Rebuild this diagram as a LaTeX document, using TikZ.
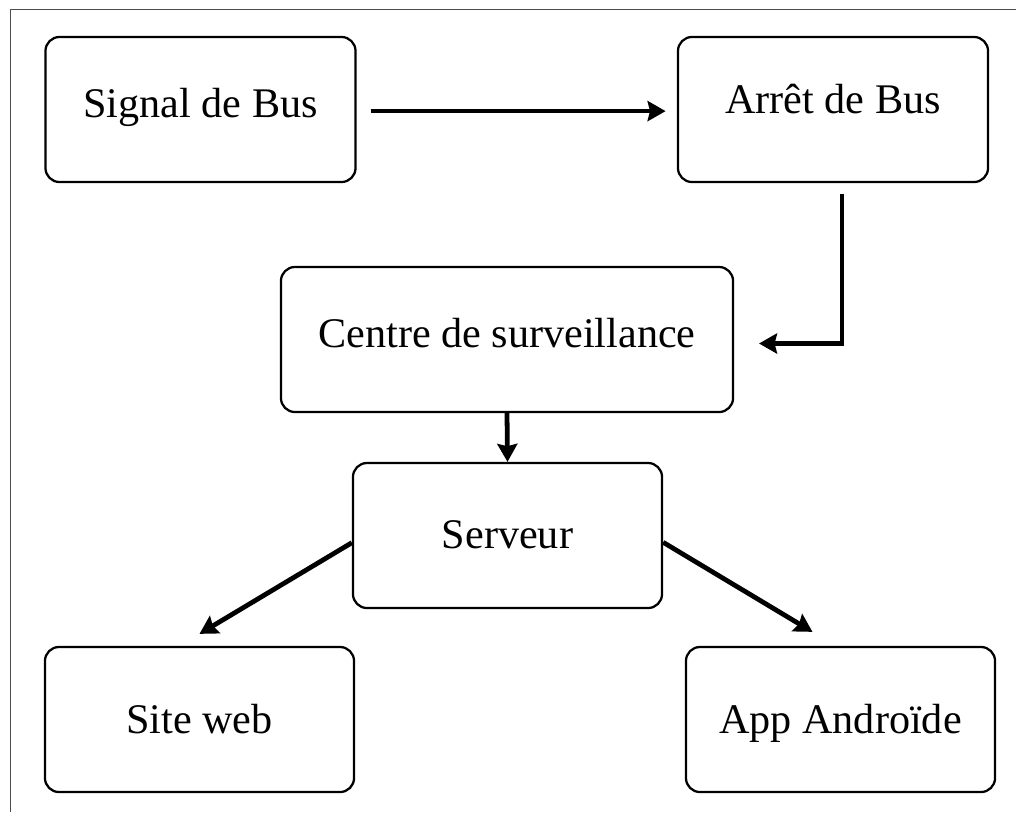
\documentclass[tikz,border=0pt]{standalone}
\usepackage{fontspec}
\setmainfont{Liberation Serif}
\usetikzlibrary{positioning,arrows.meta}

\begin{document}
\begin{tikzpicture}[x=0.025cm,y=-0.025cm,
    box/.style={draw,line width=1.6pt,rounded corners=0.35cm,inner sep=0pt,
      minimum width=7.75cm,text height=2cm,text depth=1.625cm,
      font=\fontsize{30}{36}\selectfont},
    flow/.style={line width=3.4pt,-{Stealth[length=0.45cm,width=0.5cm,inset=0.06cm]}}]
\useasboundingbox (0,0) rectangle (1016,812);
\draw[black!70,line width=0.6pt] (10,812) -- (10,9) -- (1016,9);

\node[box] (sig) at (200.5,109.5) {Signal de Bus};
\node[box,text height=1.9cm,text depth=1.725cm] (arr) at (833,109.5) {Arrêt de Bus};
\node[box,minimum width=11.3cm] (cen) at (507,339.5) {Centre de surveillance};
\node[box,text height=2.125cm,text depth=1.5cm,minimum width=7.725cm] (ser) at (507.5,535.5) {Serveur};
\node[box,text height=2.15cm,text depth=1.475cm,minimum width=7.725cm] (web) at (199.5,719.5) {Site web};
\node[box,text height=2.15cm,text depth=1.475cm,minimum width=7.725cm] (app) at (840.5,719.5) {App Androïde};

\draw[flow] ([xshift=0.35cm,yshift=-0.04cm]sig.east) -- ([xshift=-0.28cm,yshift=-0.04cm]arr.west);
\draw[flow] ([xshift=0.225cm,yshift=-0.275cm]arr.south) |- ([xshift=0.62cm,yshift=-0.1cm]cen.east);
\draw[flow] (cen.south) -- (ser.north);
\draw[flow] ([yshift=-0.18cm]ser.west) -- ([yshift=0.3cm]web.north);
\draw[flow] ([yshift=-0.17cm]ser.east) -- ([xshift=-0.7cm,yshift=0.35cm]app.north);
\end{tikzpicture}
\end{document}
